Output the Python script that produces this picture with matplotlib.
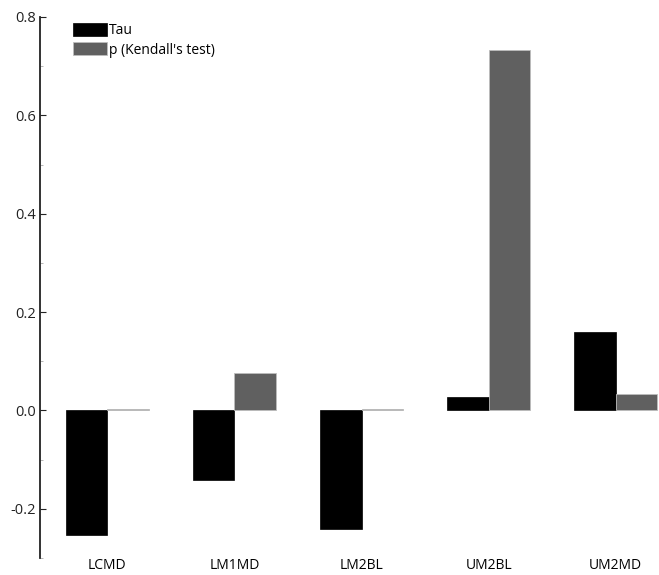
import matplotlib
matplotlib.use("Agg")
import matplotlib.pyplot as plt
import numpy as np
from matplotlib.ticker import FixedLocator

plt.rcParams['font.family'] = ['Open Sans', 'DejaVu Sans']

categories = ["LCMD", "LM1MD", "LM2BL", "UM2BL", "UM2MD"]
tau = [-0.253, -0.142, -0.241, 0.028, 0.160]
p_kendall = [0.002, 0.077, 0.003, 0.733, 0.034]

fig = plt.figure(figsize=(6.59, 5.75), dpi=100)
ax = fig.add_axes([40/659, 1 - 558/575, 619/659, (558 - 17)/575])

x = np.arange(len(categories))
w = 0.325
ax.bar(x - w/2, tau, width=w, color="black", edgecolor="black", linewidth=0.5, label="Tau")
ax.bar(x + w/2, p_kendall, width=w, color="#606060", edgecolor="#bdbdbd", linewidth=0.6,
       label="p (Kendall's test)")

ax.set_xlim(-0.53, 4.34)
ax.set_ylim(-0.3, 0.8)
ax.yaxis.set_major_locator(FixedLocator([-0.2, 0.0, 0.2, 0.4, 0.6, 0.8]))
ax.yaxis.set_minor_locator(FixedLocator([-0.3, -0.1, 0.1, 0.3, 0.5, 0.7]))
ax.set_yticklabels(["-0.2", "0.0", "0.2", "0.4", "0.6", "0.8"], fontsize=10.5)
ax.tick_params(axis="y", which="major", direction="in", length=4, width=0.8, pad=3, colors="#222222")
ax.tick_params(axis="y", which="minor", direction="in", length=2, width=0.6, color="#aaaaaa")
ax.set_xticks(x)
ax.set_xticklabels(categories, fontsize=10)
ax.tick_params(axis="x", length=0, pad=0)

for s in ["top", "right", "bottom"]:
    ax.spines[s].set_visible(False)
ax.spines["left"].set_linewidth(1.3)
ax.spines["left"].set_color("#222222")

ax.legend(loc="upper left", bbox_to_anchor=(0.045, 1.0), frameon=False, fontsize=10,
          handlelength=2.4, handleheight=1.1, handletextpad=0.15, labelspacing=0.3,
          borderaxespad=0.0)

fig.savefig("out.png", dpi=100)
